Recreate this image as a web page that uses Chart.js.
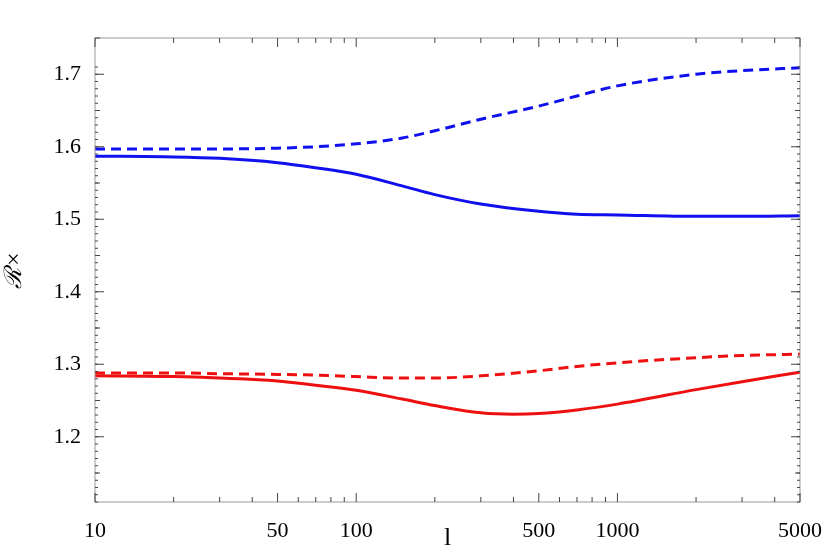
<!DOCTYPE html>
<html><head><meta charset="utf-8">
<script src="https://cdn.jsdelivr.net/npm/chart.js"></script>
<style>body{margin:0;background:#fff}#wrap{width:830px;height:554px}</style>
</head><body><div id="wrap"><canvas id="c"></canvas></div>
<script>
// curve samples
const blueDashX = [10, 20, 30, 50, 70, 100, 150, 200, 300, 500, 700, 1000, 2000, 3000, 5000];
const blueDashY = [1.597, 1.597, 1.597, 1.598, 1.600, 1.604, 1.612, 1.622, 1.638, 1.656, 1.670, 1.684, 1.700, 1.705, 1.709];
const blueSolidX = [10, 20, 30, 50, 70, 100, 150, 200, 300, 500, 700, 1000, 2000, 3000, 5000];
const blueSolidY = [1.587, 1.586, 1.584, 1.578, 1.571, 1.562, 1.546, 1.534, 1.521, 1.511, 1.507, 1.506, 1.504, 1.504, 1.505];
const redDashX = [10, 20, 30, 50, 70, 100, 150, 200, 300, 500, 700, 1000, 2000, 3000, 5000];
const redDashY = [1.288, 1.288, 1.287, 1.286, 1.285, 1.283, 1.281, 1.281, 1.284, 1.291, 1.297, 1.302, 1.309, 1.312, 1.314];
const redSolidX = [10, 20, 30, 50, 70, 100, 150, 200, 300, 400, 500, 700, 1000, 2000, 3000, 5000];
const redSolidY = [1.284, 1.283, 1.281, 1.277, 1.271, 1.264, 1.252, 1.243, 1.233, 1.231, 1.232, 1.237, 1.245, 1.265, 1.276, 1.289];
const xMajor = [10, 50, 100, 500, 1000, 5000];
const xMinor = [20, 30, 40, 60, 70, 80, 90, 200, 300, 400, 600, 700, 800, 900, 2000, 3000, 4000];
const yMajor = [1.2, 1.3, 1.4, 1.5, 1.6, 1.7];

const pts = (xs, ys) => xs.map((x, i) => ({x, y: ys[i]}));
const line = (xs, ys, color, dash) => ({
  data: pts(xs, ys), borderColor: color, borderWidth: 3, borderDash: dash,
  pointRadius: 0, cubicInterpolationMode: 'monotone', fill: false
});

// Mathematica-style inward ticks on all four sides
const frameTicks = {
  id: 'frameTicks',
  afterDraw(chart) {
    const {ctx, chartArea: a, scales: {x, y}} = chart;
    ctx.save();
    ctx.strokeStyle = '#999'; ctx.lineWidth = 1;
    ctx.strokeRect(a.left, a.top, a.right - a.left, a.bottom - a.top);
    ctx.strokeStyle = '#444';
    const vt = (v, len) => { const p = x.getPixelForValue(v);
      ctx.beginPath(); ctx.moveTo(p, a.bottom); ctx.lineTo(p, a.bottom - len);
      ctx.moveTo(p, a.top); ctx.lineTo(p, a.top + len); ctx.stroke(); };
    xMajor.forEach(v => vt(v, 9)); xMinor.forEach(v => vt(v, 5));
    const ht = (v, len) => { const p = y.getPixelForValue(v);
      ctx.beginPath(); ctx.moveTo(a.left, p); ctx.lineTo(a.left + len, p);
      ctx.moveTo(a.right, p); ctx.lineTo(a.right - len, p); ctx.stroke(); };
    for (let k = 0; k <= 12; k++) { const v = 1.15 + k * 0.05; ht(+v.toFixed(2), Math.round(v * 100) % 10 === 0 ? 9 : 5); }
    for (let k = 0; k <= 60; k++) { const v = 1.11 + k * 0.01; ht(v, 3); }
    ctx.restore();
  }
};

const font = {family: 'Liberation Serif', size: 22};
new Chart(document.getElementById('c'), {
  type: 'line',
  data: {datasets: [
    line(blueDashX, blueDashY, '#1010ee', [10, 6]),
    line(blueSolidX, blueSolidY, '#1010ee', []),
    line(redDashX, redDashY, '#ee1010', [10, 6]),
    line(redSolidX, redSolidY, '#ee1010', [])
  ]},
  options: {
    responsive: true, maintainAspectRatio: false, animation: false,
    layout: {padding: {top: 38, right: 30, left: 0, bottom: 0}},
    plugins: {legend: {display: false}, tooltip: {enabled: false}},
    scales: {
      x: {type: 'logarithmic', min: 10, max: 5000,
        afterBuildTicks: s => { s.ticks = xMajor.map(v => ({value: v})); },
        afterFit: s => { s.height = 52; },
        ticks: {font, color: '#000', autoSkip: false, maxRotation: 0, padding: 8, callback: v => String(v)},
        grid: {display: false}, border: {display: false},
        title: {display: true, text: 'l', font: {family: 'Liberation Serif', size: 26}, color: '#000', padding: 0}},
      y: {min: 1.11, max: 1.75,
        afterBuildTicks: s => { s.ticks = yMajor.map(v => ({value: v})); },
        afterFit: s => { s.width = 95; },
        ticks: {font, color: '#000', padding: 6, callback: v => v.toFixed(1)},
        grid: {display: false}, border: {display: false},
        title: {display: true, text: 'ℛ×', font: {family: 'Liberation Serif', size: 24, style: 'italic'}, color: '#000', padding: 0}}
    }
  },
  plugins: [frameTicks]
});
</script></body></html>
